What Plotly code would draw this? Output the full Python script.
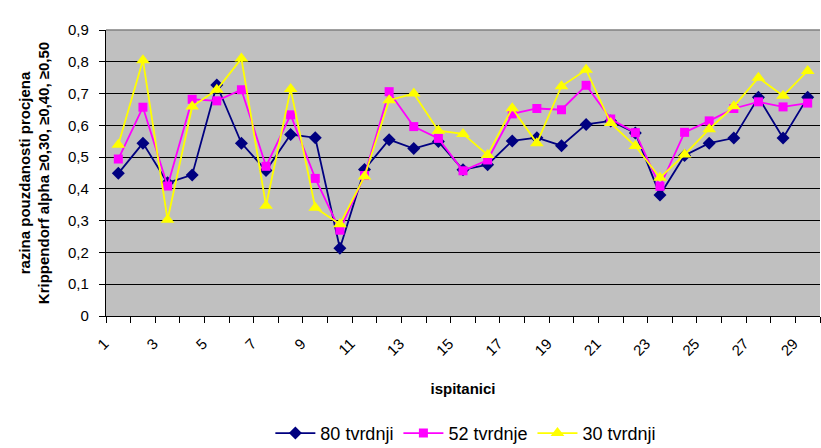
import plotly.graph_objects as go

categories = list(range(1, 30))
s80 = [0.449, 0.544, 0.419, 0.444, 0.727, 0.544, 0.458, 0.571, 0.561, 0.213,
       0.461, 0.555, 0.527, 0.549, 0.460, 0.476, 0.551, 0.561, 0.536, 0.603,
       0.614, 0.576, 0.381, 0.505, 0.544, 0.560, 0.688, 0.560, 0.688]
s52 = [0.494, 0.657, 0.409, 0.682, 0.677, 0.712, 0.471, 0.633, 0.433, 0.270,
       0.442, 0.706, 0.596, 0.559, 0.457, 0.491, 0.636, 0.653, 0.649, 0.726,
       0.620, 0.577, 0.408, 0.578, 0.614, 0.653, 0.674, 0.658, 0.670]
s30 = [0.539, 0.805, 0.303, 0.659, 0.712, 0.810, 0.347, 0.714, 0.341, 0.289,
       0.439, 0.679, 0.700, 0.583, 0.573, 0.507, 0.654, 0.544, 0.723, 0.775,
       0.607, 0.535, 0.435, 0.508, 0.588, 0.660, 0.750, 0.693, 0.771]
series_names = ["80 tvrdnji", "52 tvrdnje", "30 tvrdnji"]
x_tick_vals = list(range(1, 30, 2))
x_tick_text = [str(v) for v in x_tick_vals]
y_tick_vals = [0, 0.1, 0.2, 0.3, 0.4, 0.5, 0.6, 0.7, 0.8, 0.9]
y_tick_text = ["0", "0,1", "0,2", "0,3", "0,4", "0,5", "0,6", "0,7", "0,8", "0,9"]

reg = "Liberation Sans, Arial"

fig = go.Figure()
fig.add_trace(go.Scatter(x=categories, y=s80, name=series_names[0], mode="lines+markers",
                         line=dict(color="#000080", width=1.8),
                         marker=dict(symbol="diamond", size=10, color="#000080")))
fig.add_trace(go.Scatter(x=categories, y=s52, name=series_names[1], mode="lines+markers",
                         line=dict(color="#FF00FF", width=1.8),
                         marker=dict(symbol="square", size=9, color="#FF00FF")))
fig.add_trace(go.Scatter(x=categories, y=s30, name=series_names[2], mode="lines+markers",
                         line=dict(color="#FFFF00", width=1.8),
                         marker=dict(symbol="triangle-up", size=12, color="#FFFF00")))

fig.update_layout(
    width=821, height=448,
    margin=dict(l=106, r=1, t=30, b=132, autoexpand=False),
    paper_bgcolor="white", plot_bgcolor="#C0C0C0",
    font=dict(family=reg, size=15, color="black"),
    showlegend=True,
    legend=dict(orientation="h", x=0.504, xanchor="center", y=-0.475, yanchor="bottom",
                font=dict(family=reg, size=18), itemwidth=40, tracegroupgap=0),
)
fig.update_xaxes(
    automargin=False,
    range=[0.5, 29.5], tickvals=x_tick_vals, ticktext=x_tick_text, tickangle=-45,
    ticklabelshift=-14, ticklabelstandoff=12,
    ticks="", showgrid=False, zeroline=False,
    showline=True, linecolor="black", linewidth=1.2,
    minor=dict(tickvals=[v + 0.5 for v in range(0, 30)], ticks="outside", ticklen=6,
               tickcolor="black", showgrid=False),
    tickfont=dict(family=reg, size=15),
    title=dict(text="<b>ispitanici</b>", font=dict(family=reg, size=15), standoff=25),
)
fig.update_yaxes(
    automargin=False,
    range=[0, 0.9], tickvals=y_tick_vals, ticktext=y_tick_text,
    ticks="outside", ticklen=6, tickcolor="black", ticklabelstandoff=7,
    showgrid=True, gridcolor="black", gridwidth=1, zeroline=False,
    showline=True, linecolor="black", linewidth=1.2,
    tickfont=dict(family=reg, size=15),
    title=dict(text="<b>razina pouzdanosti procjena<br>Krippendorf alpha ≥0,30, ≥0,40, ≥0,50</b>",
               font=dict(family=reg, size=15), standoff=14),
)
fig.add_shape(type="line", xref="paper", yref="paper", x0=0, x1=1, y0=1, y1=1,
              line=dict(color="#808080", width=1.5), layer="above")

fig.write_html("out.html", config={"displayModeBar": False},
               post_script="document.body.style.margin='0';document.body.style.overflow='hidden';")
